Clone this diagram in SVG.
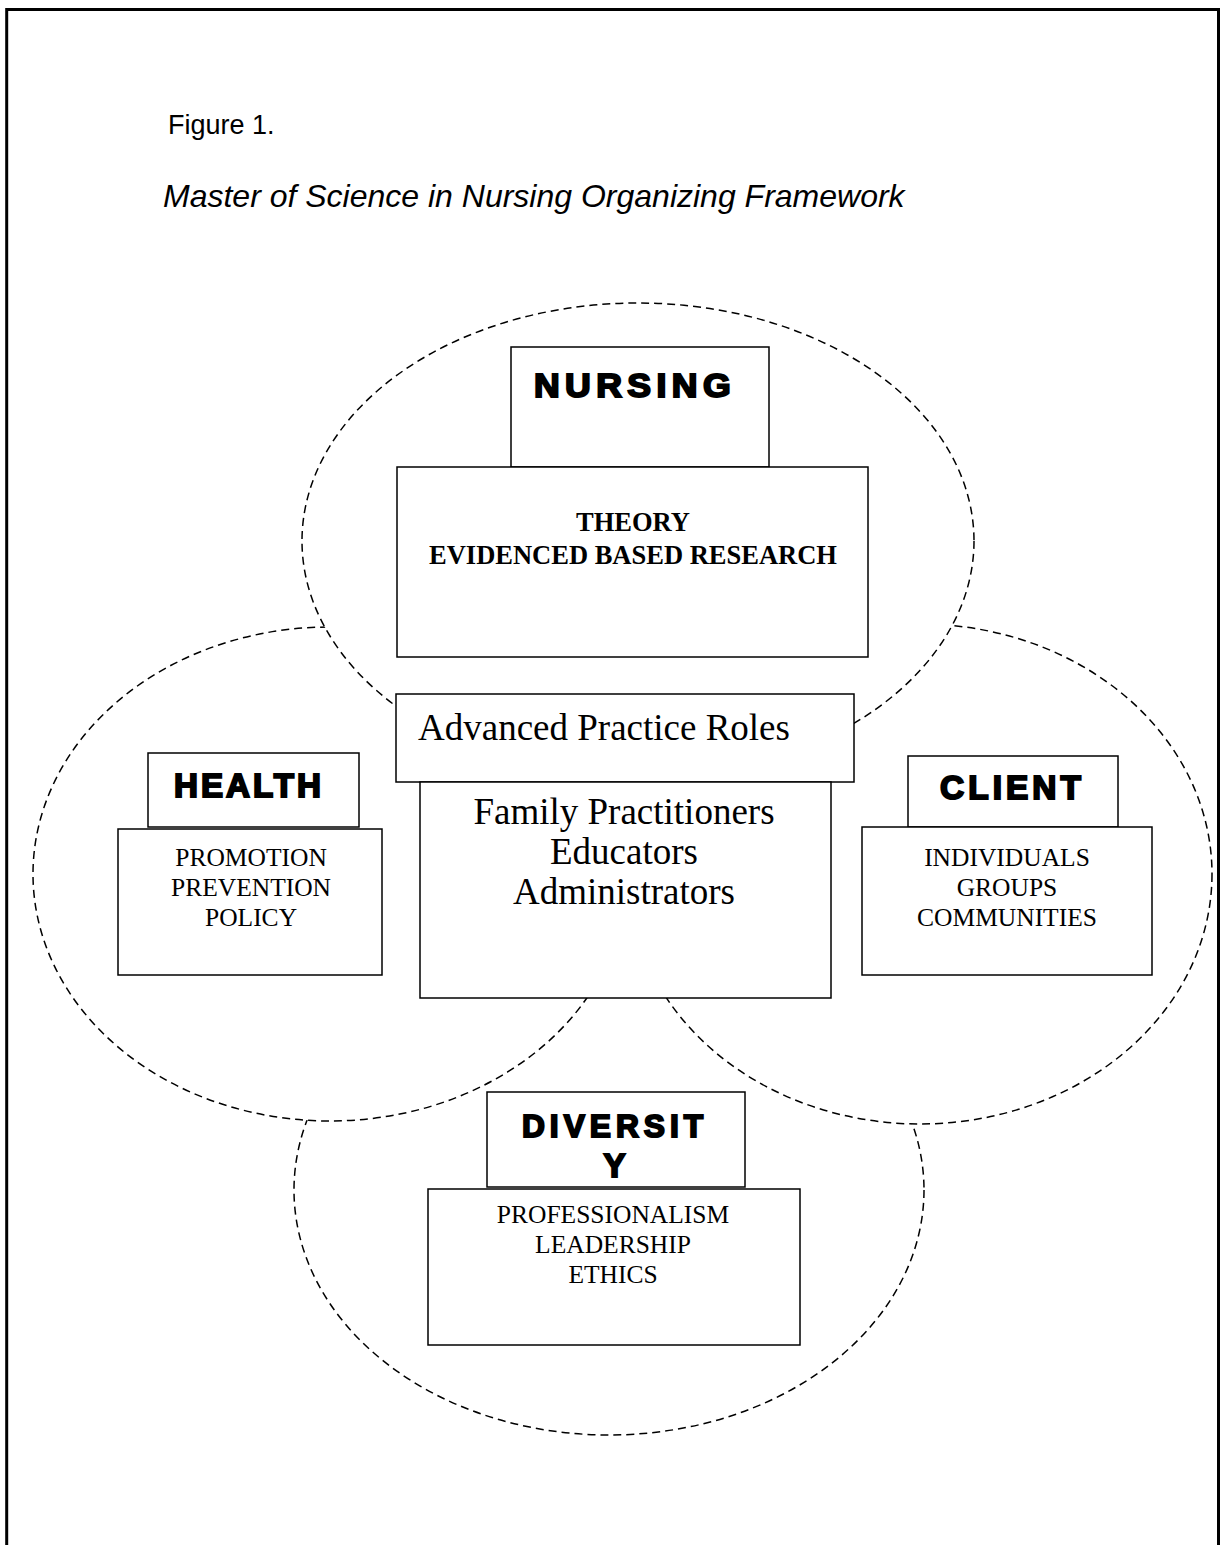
<svg xmlns="http://www.w3.org/2000/svg" width="1220" height="1545" viewBox="0 0 1220 1545">
<style>
.oval{fill:#fff;stroke:#000;stroke-width:1.5;stroke-dasharray:8 5}
.box{fill:#fff;stroke:#000;stroke-width:1.5}
.heavy{font-family:"Liberation Sans",Arial,sans-serif;font-weight:bold;font-size:33px;fill:#000;stroke:#000;stroke-width:2;text-anchor:middle;letter-spacing:5px}
.serif{font-family:"Liberation Serif","Times New Roman",serif;fill:#000}
.mid{text-anchor:middle}
.cap{font-size:25.5px}
.big{font-size:37px}
.bold{font-weight:bold;font-size:26.5px}
.sans{font-family:"Liberation Sans",Arial,sans-serif;fill:#000}
</style>
<rect width="1220" height="1545" fill="#fff"/>
<path d="M6.7,1545 V9.5 H1218.5 V1545" fill="none" stroke="#000" stroke-width="3"/>
<text class="sans" x="168" y="134" font-size="27">Figure 1.</text>
<text class="sans" x="163" y="207" font-size="32" font-style="italic">Master of Science in Nursing Organizing Framework</text>
<g id="connectors">
<ellipse id="oval-diversity" class="oval" cx="609" cy="1190" rx="315" ry="245"/>
<ellipse id="oval-health" class="oval" cx="330" cy="874" rx="297" ry="247"/>
<ellipse id="oval-client" class="oval" cx="920" cy="874" rx="292" ry="250"/>
<ellipse id="oval-nursing" class="oval" cx="638" cy="541" rx="336" ry="238"/>
</g>
<g id="nursing">
<rect class="box" x="511" y="347" width="258" height="120"/>
<text class="heavy" x="534" y="397" text-anchor="start" style="text-anchor:start" textLength="202" lengthAdjust="spacingAndGlyphs">NURSING</text>
</g>
<g id="theory">
<rect class="box" x="397" y="467" width="471" height="190"/>
<text class="serif bold mid" x="633" y="531">THEORY</text>
<text class="serif bold mid" x="633" y="564">EVIDENCED BASED RESEARCH</text>
</g>
<g id="advanced">
<rect class="box" x="396" y="694" width="458" height="88"/>
<text class="serif big" x="418" y="740">Advanced Practice Roles</text>
</g>
<g id="roles">
<rect class="box" x="420" y="782" width="411" height="216"/>
<text class="serif big mid" x="624" y="824">Family Practitioners</text>
<text class="serif big mid" x="624" y="864">Educators</text>
<text class="serif big mid" x="624" y="904">Administrators</text>
</g>
<g id="health">
<rect class="box" x="148" y="753" width="211" height="74"/>
<text class="heavy" x="174" y="797" style="text-anchor:start;letter-spacing:3px" textLength="150" lengthAdjust="spacingAndGlyphs">HEALTH</text>
</g>
<g id="health-items">
<rect class="box" x="118" y="829" width="264" height="146"/>
<text class="serif cap mid" x="251" y="866">PROMOTION</text>
<text class="serif cap mid" x="251" y="896">PREVENTION</text>
<text class="serif cap mid" x="251" y="926">POLICY</text>
</g>
<g id="client">
<rect class="box" x="908" y="756" width="210" height="71"/>
<text class="heavy" x="940" y="799" style="text-anchor:start;letter-spacing:4px" textLength="145" lengthAdjust="spacingAndGlyphs">CLIENT</text>
</g>
<g id="client-items">
<rect class="box" x="862" y="827" width="290" height="148"/>
<text class="serif cap mid" x="1007" y="866">INDIVIDUALS</text>
<text class="serif cap mid" x="1007" y="896">GROUPS</text>
<text class="serif cap mid" x="1007" y="926">COMMUNITIES</text>
</g>
<g id="diversity">
<rect class="box" x="487" y="1092" width="258" height="95"/>
<text class="heavy" x="522" y="1137" style="text-anchor:start;font-size:32px" textLength="186" lengthAdjust="spacingAndGlyphs">DIVERSIT</text>
<text class="heavy" x="614.5" y="1177" style="letter-spacing:0">Y</text>
</g>
<g id="diversity-items">
<rect class="box" x="428" y="1189" width="372" height="156"/>
<text class="serif cap mid" x="613" y="1223">PROFESSIONALISM</text>
<text class="serif cap mid" x="613" y="1253">LEADERSHIP</text>
<text class="serif cap mid" x="613" y="1283">ETHICS</text>
</g>
</svg>
